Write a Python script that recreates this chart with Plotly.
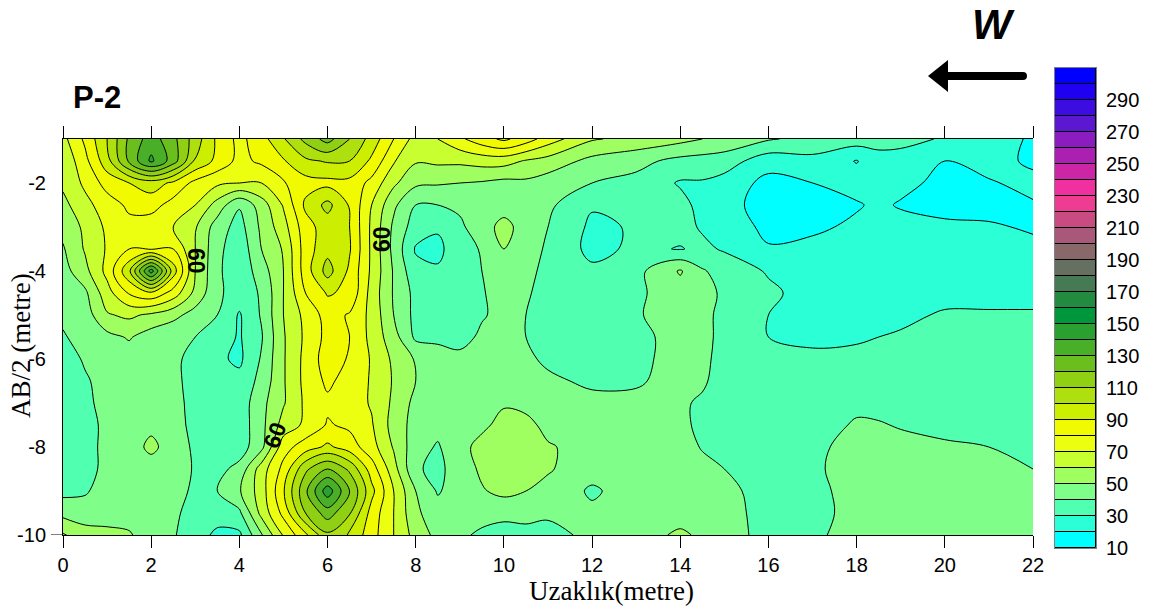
import plotly.graph_objects as go

distance = [0,.5,1,1.5,2,2.5,3,3.5,4,4.5,5,5.5,6,6.5,7,7.5,8,8.5,9,9.5,10,10.5,11,12,13,14,14.5,15,16,17,18,18.5,19,20,21,22]
depth = [-1,-1.5,-2,-2.5,-3,-3.5,-4,-4.5,-5,-5.5,-6,-6.5,-7,-7.5,-8,-8.5,-9,-9.5,-10]

row_01_0 = [67,82,100,122,135,123,105,88,77,86,99,113,124,110,96,80,66,70,78,86,92,85,75,61,57,53,50,47,41,37,35,34,33,29,27,18]
row_01_5 = [62,77,96,122,142,125,99,87,77,82,89,98,101,100,88,71,61,62,62,64,64,59,56,47,43,37,36,35,24,27,19.5,26,26,20,24,18]
row_02_0 = [62,72,84,90,95,88,77,72,70,70,79,86,87,87,77,62,52,51,50,49,47,48,45,40,37,29,29,26,17,20,24,25,23,17,19,23]
row_02_5 = [57,67,75,82,84,76,70,56,41,55,71,92,103,89,70,52,40,40,42,44,46,44,42,31,33,33,27,25,14,15,19,22,19,15,17,19]
row_03_0 = [53,62,72,77,74,70,61,45,36,52,66,86,95,90,68,48,35,31,38,46,53,46,40,28,31,33,29,27,17,18,22,23,24,23,21,19]
row_03_5 = [49,61,71,80,79,80,60,43,33,50,61,85,97,91,68,47,29,28,35,41,50,43,39,27,32,29.5,32,29,21,23,23,24,24,24,23,22]
row_04_0 = [46,57,73,98,145,95,60,42,33,45,60,85,104,88,68,49,33,31,37,40,46,42,38,32,37,51,41,36,29,26,25,26,26,26,26,26]
row_04_5 = [44,48,66,81,88,76,57,42,35,41,60,80,91,88,66,49,37,35,34,39,45,41,37,32,38,46,44,38,32,26,26,27,27,27,27,27]
row_05_0 = [42,45,59,62,58,53,46,40,29,41,60,73,84,79,67,50,37,36,33,39,43,40,36,33,39,45,43,37,30,27,27,28,28,31,31,31]
row_05_5 = [39,44,47,51,45,42,40,35,29,39,59,72,83,80,67,54,38,38,36,42,43,40,35,33,37,44,43,37,30,28,29,30,31,32,33,33]
row_06_0 = [36,41,44,45,43,42,37,32,28,41,59,73,85,79,69,58,49,44,43,44,44,42,38,34,38,43,42,37,31,32,32,33,33,34,35,35]
row_06_5 = [34,39,43,45,44,42,37,34,33,43,59,73,82,76,69,59,50,45,46,45,46,45,42,38,39,43,41,37,34,34,35,36,36,37,37,38]
row_07_0 = [33,38,43,46,46,43,37,35,34,47,59,72,78,75,69,58,47,44,46,46,49,47,45,43,42,41,39,37,35,36,38,38,38,38,38,38]
row_07_5 = [33,37,42,46,48,44,37,35,34,47,64,72,81,78,71,56,46,43,46,48,53,53,47,44,44,42,38,38,35,36,41,40.5,39.5,38,38,38]
row_08_0 = [33,36,43,46,52,46,38,36,35,47,76,85,92,85,74,59,44,39,47,53,58,57,51,46,46,43,39.5,38,35,38,43,42,42,41,40,38]
row_08_5 = [33,36,43,46,46,45,39,37,43,65,83,108,120,108,85,64,41,38,44,52,59,56,51,44,44,43,42,40,37,38,45,45,45,44,43,40]
row_09_0 = [37,39,44,47,47,44,38,40,49,65,89,118,146,120,93,70,50,39,45,49,53,50,47,38.5,45,44,44,42,37,37,44,45,45,45,45,43]
row_09_5 = [47,44,45,46,45,42,36,34,38,63,83,110,125,111,86,70,52,44,45,44,42,44,42,42,44,45,46,43,37,37,43,44,45,45,45,44]
row_10_0 = [61,55,53,51,45,41,34,28,28,49,71,88,108,99,84,70,56,47,42,38,37,36,36,43,45,52,48,45,36,38,44,45,45,45,46,46]

band_colors = ["#00FFFF","#2AFFD5","#50FFB0","#7FFF8A","#A0FF60","#C8FF30","#EDFF10","#F2FA00",
               "#CCEE00","#AEE010","#8FD015","#6ABF1F","#4AAF28","#2AA030","#00963C","#228B40",
               "#457A55","#667060","#886868","#A8597A","#C84C82","#EE3C93","#F030A0","#CC25A5",
               "#AA20B0","#8A1CC0","#5C18D0","#3C0CE0","#2000F0","#0000FF"]
band_bottoms = list(range(10, 310, 10))
band_sizes = [10] * 30
colorbar_ticks = [10,30,50,70,90,110,130,150,170,190,210,230,250,270,290]
x_ticks = [0,2,4,6,8,10,12,14,16,18,20,22]
y_ticks = [-2,-4,-6,-8,-10]
y_labels = ["-2","-4","-6","-8","-10"]

W, H = 1156, 613
L, R, T, B = 63, 1033, 139, 535
px = lambda v: v / W
py = lambda v: 1 - v / H

# fill colour of band [L, L+10] is read at L+5 on a domain of 5..315
scale = [[0, band_colors[0]]]
for i, c in enumerate(band_colors):
    scale.append([(10 + 10 * i) / 310, c])
scale.append([1, band_colors[-1]])

z = [row_01_0,row_01_5,row_02_0,row_02_5,row_03_0,row_03_5,row_04_0,row_04_5,row_05_0,row_05_5,
     row_06_0,row_06_5,row_07_0,row_07_5,row_08_0,row_08_5,row_09_0,row_09_5,row_10_0]

fig = go.Figure()
fig.add_trace(go.Contour(
    x=distance, y=depth, z=z, colorscale=scale, autocontour=False, showscale=False,
    contours=dict(start=10, end=310, size=10, coloring="fill", showlines=True),
    line=dict(color="black", width=1, smoothing=1.0),
    hoverinfo="skip",
))
fig.add_trace(go.Bar(
    x=["scale"] * 30, y=band_sizes, base=band_bottoms, xaxis="x3", yaxis="y3", width=1,
    marker=dict(color=band_colors, line=dict(color="black", width=1)), hoverinfo="skip", showlegend=False,
))

grey = "#808080"
fig.update_layout(
    width=W, height=H, autosize=False, paper_bgcolor="white", plot_bgcolor="white",
    margin=dict(l=0, r=0, t=0, b=0, pad=0, autoexpand=False),
    font=dict(family="Liberation Sans", color="black"),
    showlegend=False, barmode="overlay", bargap=0,
    xaxis=dict(domain=[px(L), px(R)], range=[0, 22], tickmode="array", tickvals=x_ticks, ticks="outside", ticklen=12,
               tickwidth=1, tickcolor="black", showline=True, linecolor="black", mirror="ticks", showgrid=False,
               zeroline=False, tickfont=dict(size=20, family="Liberation Sans")),
    yaxis=dict(domain=[py(B), py(T)], range=[-10, -1], tickmode="array", tickvals=y_ticks, ticktext=y_labels, ticks="",
               showline=True, linecolor="black", showgrid=False, zeroline=False,
               tickfont=dict(size=20, family="Liberation Sans"), ticklabelstandoff=12),
    yaxis2=dict(range=[-10, -1], overlaying="y", side="right", anchor="x", tickmode="array", tickvals=y_ticks,
                ticks="outside", ticklen=12, tickcolor=grey, showticklabels=False, showline=True,
                linecolor=grey, showgrid=False, zeroline=False),
    xaxis3=dict(domain=[px(1055), px(1096)], anchor="y3", visible=True, showticklabels=False, ticks="", showline=True,
                linecolor=grey, mirror=True, showgrid=False, zeroline=False),
    yaxis3=dict(domain=[py(548), py(68)], anchor="x3", side="right", range=[10, 310], tickmode="array",
                tickvals=colorbar_ticks, ticks="", showline=True, linecolor=grey, mirror=True, showgrid=False,
                zeroline=False, tickfont=dict(size=20, family="Liberation Sans"), ticklabelstandoff=5),
)

def note(text, x, y, size, family="Liberation Sans", bold=False, italic=False, angle=0):
    t = text
    if bold: t = f"<b>{t}</b>"
    if italic: t = f"<i>{t}</i>"
    fig.add_annotation(xref="paper", yref="paper", x=px(x), y=py(y), text=t, showarrow=False,
                       font=dict(size=size, family=family, color="black"), textangle=angle,
                       xanchor="center", yanchor="middle", borderpad=0)

note("P-2", 97, 97, 31, bold=True)
note("W", 993, 25, 42, bold=True, italic=True)
note("AB/2 (metre)", 21, 346, 27, family="Liberation Serif", angle=-90)
note("Uzaklık(metre)", 611, 591, 27, family="Liberation Serif")
note("60", 196, 261, 23, bold=True, angle=90)
note("60", 382, 239, 23, bold=True, angle=-90)
note("60", 275, 435, 23, bold=True, angle=-70)

# direction arrow and the single black tick at the lower left corner
fig.add_shape(type="path", xref="paper", yref="paper", fillcolor="black", line=dict(color="black", width=0),
              path=f"M {px(928)} {py(76)} L {px(948)} {py(60)} L {px(948)} {py(72)} L {px(1023)} {py(72)} "
                   f"Q {px(1027)} {py(72)} {px(1027)} {py(76)} Q {px(1027)} {py(80)} {px(1023)} {py(80)} "
                   f"L {px(948)} {py(80)} L {px(948)} {py(92)} Z")
fig.add_shape(type="line", xref="paper", yref="y", x0=px(51), x1=px(L), y0=-10, y1=-10, line=dict(color="black", width=1))

fig.write_html("out.html", post_script="document.body.style.margin='0';", config={"displayModeBar": False})
